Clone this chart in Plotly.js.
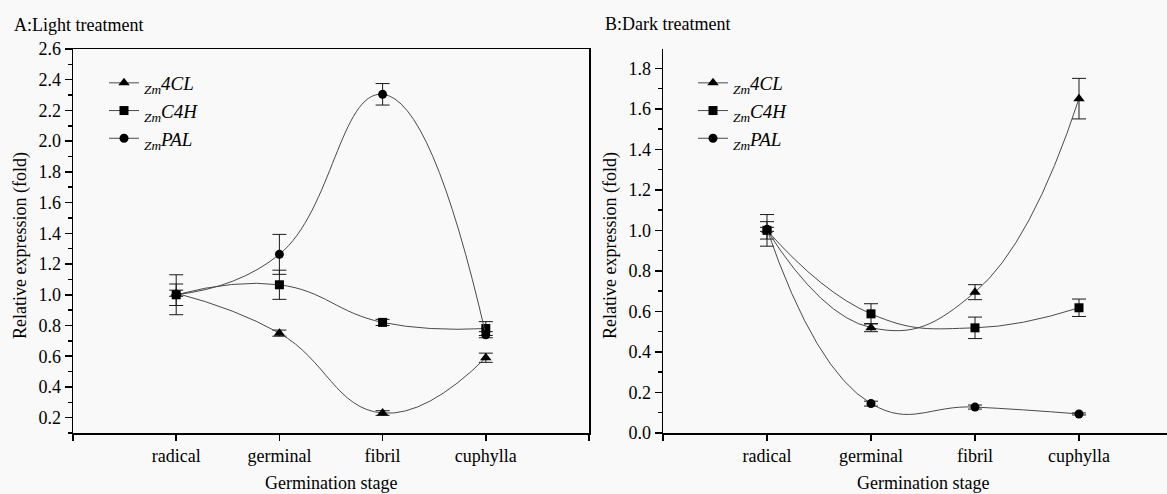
<!DOCTYPE html>
<html>
<head>
<meta charset="utf-8">
<script src="https://cdn.plot.ly/plotly-3.0.1.min.js"></script>
<style>
  html, body { margin: 0; padding: 0; background: #f9f9f9; }
  #chart { width: 1167px; height: 494px; }
</style>
</head>
<body>
<div id="chart"></div>
<script>
// ---- data ----
const stages = ['radical', 'germinal', 'fibril', 'cuphylla'];
const geneNames = ['4CL', 'C4H', 'PAL'];

// A: Light treatment
const light4CL    = [1.01, 0.75, 0.23, 0.59];
const light4CLErr = [0.02, 0.02, 0.015, 0.03];
const lightC4H    = [1.00, 1.065, 0.82, 0.78];
const lightC4HErr = [0.07, 0.095, 0.02, 0.045];
const lightPAL    = [1.00, 1.263, 2.305, 0.74];
const lightPALErr = [0.13, 0.13, 0.07, 0.02];

// B: Dark treatment
const dark4CL    = [1.00, 0.52, 0.695, 1.65];
const dark4CLErr = [0.043, 0.02, 0.037, 0.10];
const darkC4H    = [1.00, 0.588, 0.519, 0.618];
const darkC4HErr = [0.078, 0.05, 0.053, 0.043];
const darkPAL    = [1.005, 0.145, 0.128, 0.094];
const darkPALErr = [0.01, 0.012, 0.01, 0.005];

// ---- styling ----
const FONT = '"Liberation Serif", "Times New Roman", serif';
const symbols = ['triangle-up', 'square', 'circle'];
const symSizes = [10, 9, 9];
const xpos = stages.map((_, i) => i + 1);

function legendName(g) {
  return '<sub><i>Zm</i></sub><i>' + g + '</i>';
}

function mkTrace(vals, errs, gi, xa, ya, leg) {
  return {
    x: xpos, y: vals, xaxis: xa, yaxis: ya,
    type: 'scatter', mode: 'lines+markers',
    name: legendName(geneNames[gi]),
    legend: leg,
    line: { shape: 'spline', smoothing: 1.3, color: '#4a4a4a', width: 1 },
    marker: { symbol: symbols[gi], size: symSizes[gi], color: '#000' },
    error_y: { type: 'data', array: errs, visible: true, color: '#1a1a1a', thickness: 1, width: 7 },
    hoverinfo: 'skip'
  };
}

const traces = [
  mkTrace(light4CL, light4CLErr, 0, 'x', 'y', 'legend'),
  mkTrace(lightC4H, lightC4HErr, 1, 'x', 'y', 'legend'),
  mkTrace(lightPAL, lightPALErr, 2, 'x', 'y', 'legend'),
  mkTrace(dark4CL, dark4CLErr, 0, 'x2', 'y2', 'legend2'),
  mkTrace(darkC4H, darkC4HErr, 1, 'x2', 'y2', 'legend2'),
  mkTrace(darkPAL, darkPALErr, 2, 'x2', 'y2', 'legend2')
];

const W = 1167, H = 494;

function xAxis(domain, range) {
  return {
    domain: domain, range: range,
    tickmode: 'array', tickvals: xpos, ticktext: stages,
    ticks: 'outside', ticklen: 6, tickwidth: 1.5, tickcolor: '#000',
    minor: { tick0: 0, dtick: 1, ticks: 'outside', ticklen: 6, tickwidth: 1.5, tickcolor: '#000', showgrid: false },
    showline: true, linecolor: '#000', linewidth: 1.5, mirror: true,
    showgrid: false, zeroline: false,
    tickfont: { family: FONT, size: 18, color: '#000' },
    fixedrange: true
  };
}
function yAxis(domain, range, tick0, anchor, mirror) {
  return {
    domain: domain, range: range, anchor: anchor,
    tick0: tick0, dtick: 0.2, tickformat: '.1f',
    ticks: 'outside', ticklen: 7, tickwidth: 1.5, tickcolor: '#000',
    minor: { dtick: 0.1, tick0: 0, ticks: 'outside', ticklen: 4, tickwidth: 1.5, tickcolor: '#000', showgrid: false },
    showline: true, linecolor: '#000', linewidth: 1.5, mirror: mirror,
    showgrid: false, zeroline: false,
    tickfont: { family: FONT, size: 18, color: '#000' },
    fixedrange: true
  };
}

const yDom = [(H - 433) / H, (H - 49) / H];

const legendStyle = (xpx) => ({
  x: xpx / W, y: (H - 64) / H, xanchor: 'left', yanchor: 'top',
  bgcolor: 'rgba(0,0,0,0)', borderwidth: 0,
  font: { family: FONT, size: 19, color: '#000' },
  tracegroupgap: 0, itemwidth: 30
});

const layout = {
  width: W, height: H,
  margin: { l: 0, r: 0, t: 0, b: 0, pad: 0 },
  paper_bgcolor: '#f9f9f9', plot_bgcolor: '#f9f9f9',
  font: { family: FONT, size: 18, color: '#000' },
  showlegend: true,
  xaxis: xAxis([73 / W, 589 / W], [0, 5]),
  yaxis: yAxis(yDom, [0.1, 2.6], 0.2, 'x', true),
  xaxis2: Object.assign(xAxis([663 / W, 1], [0, (W - 663) / 104]), { anchor: 'y2', mirror: false }),
  yaxis2: yAxis(yDom, [0, 1.895], 0, 'x2', false),
  legend: legendStyle(104),
  legend2: legendStyle(693),
  annotations: [
    { text: 'A:Light treatment', xref: 'paper', yref: 'paper', x: 12 / W, y: (H - 25) / H,
      xanchor: 'left', yanchor: 'middle', showarrow: false, font: { family: FONT, size: 18 } },
    { text: 'B:Dark treatment', xref: 'paper', yref: 'paper', x: 603 / W, y: (H - 24) / H,
      xanchor: 'left', yanchor: 'middle', showarrow: false, font: { family: FONT, size: 18 } },
    { text: 'Relative expression (fold)', xref: 'paper', yref: 'paper', x: 20 / W, y: (H - 246) / H,
      xanchor: 'center', yanchor: 'middle', textangle: -90, showarrow: false, font: { family: FONT, size: 18 } },
    { text: 'Relative expression (fold)', xref: 'paper', yref: 'paper', x: 610 / W, y: (H - 246) / H,
      xanchor: 'center', yanchor: 'middle', textangle: -90, showarrow: false, font: { family: FONT, size: 18 } },
    { text: 'Germination stage', xref: 'paper', yref: 'paper', x: 331 / W, y: (H - 483) / H,
      xanchor: 'center', yanchor: 'middle', showarrow: false, font: { family: FONT, size: 18 } },
    { text: 'Germination stage', xref: 'paper', yref: 'paper', x: 923 / W, y: (H - 483) / H,
      xanchor: 'center', yanchor: 'middle', showarrow: false, font: { family: FONT, size: 18 } }
  ]
};

Plotly.newPlot('chart', traces, layout, { displayModeBar: false, staticPlot: true });
</script>
</body>
</html>
